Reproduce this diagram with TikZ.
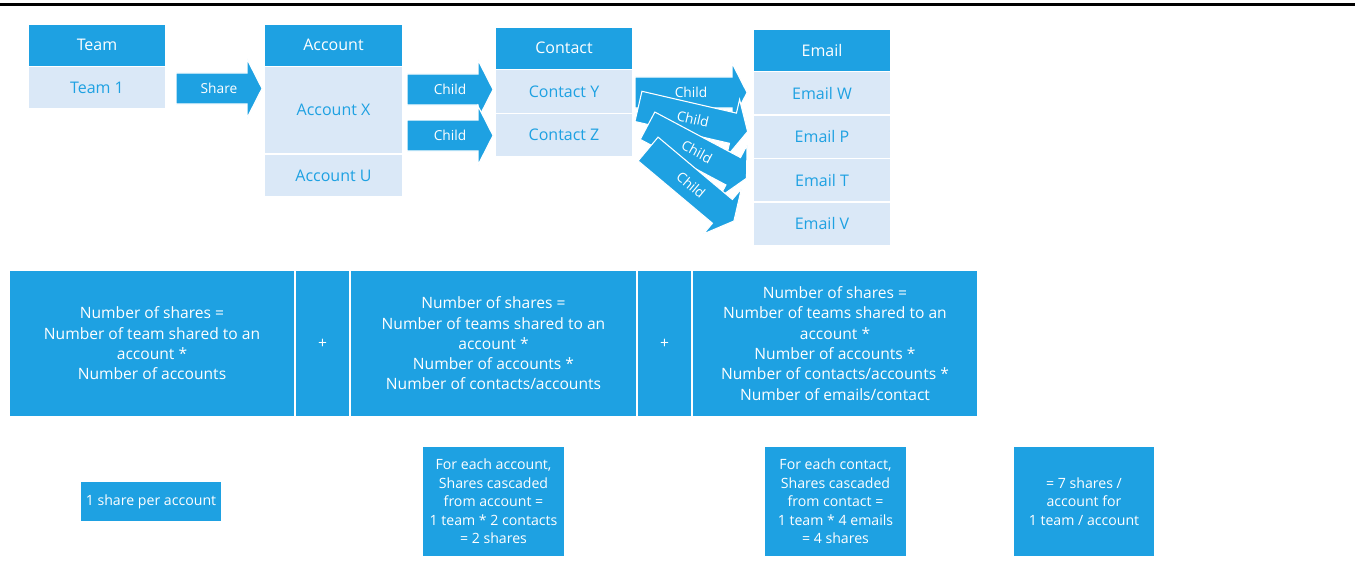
\documentclass[tikz,border=0pt]{standalone}
\usepackage{fontspec}
\setmainfont{Open Sans}
\definecolor{dblue}{RGB}{30,161,226}
\definecolor{lblue}{RGB}{218,232,247}
\begin{document}
\begin{tikzpicture}[x=0.75pt,y=-0.75pt,
  sz/.style 2 args={minimum width=#1*0.75pt, minimum height=#2*0.75pt},
  cell/.style={rectangle, inner sep=0pt, draw=white, line width=1pt},
  hdr/.style={cell, fill=dblue, text=white, font=\fontsize{12}{14}\selectfont},
  item/.style={cell, fill=lblue, text=dblue, font=\fontsize{12}{14}\selectfont},
  formula/.style={cell, fill=dblue, text=white, align=center, font=\fontsize{11.7}{15.2}\selectfont},
  note/.style={cell, fill=dblue, text=white, align=center, font=\fontsize{10.6}{13.9}\selectfont},
  arrowlabel/.style={text=white, inner sep=0pt, font=\fontsize{10.3}{12}\selectfont, transform shape},
  pics/blockarrow/.style 2 args={code={
    \path[fill=dblue, draw=white, line width=0.8pt]
      (-#1/2,-15.5) -- (#1/2-15,-15.5) -- (#1/2-15,-29.5) -- (#1/2,0)
      -- (#1/2-15,29.5) -- (#1/2-15,15.5) -- (-#1/2,15.5) -- cycle;
    \node[arrowlabel] at (0,0) {#2};
  }},
]
\useasboundingbox (0,0) rectangle (1355,560);

% top rule
\draw[line width=2.25pt] (0,4.5) -- (1355,4.5);

% Team table
\node[hdr, sz={138}{42.5}] (teamh) at (97,45.25) {Team};
\node[item, sz={138}{42.5}] (team1) at (97,87.75) {Team 1};

% Account table
\node[hdr, sz={139}{42.5}] (acch) at (333.5,45.25) {Account};
\node[item, sz={139}{87.5}] (accx) at (333.5,110.25) {Account X};
\node[item, sz={139}{43}] (accu) at (333.5,175.5) {Account U};

% Contact table
\node[hdr, sz={138}{42.5}] (conh) at (564,48.25) {Contact};
\node[item, sz={138}{44}] (cony) at (564,91.5) {Contact Y};
\node[item, sz={138}{43.5}] (conz) at (564,135.25) {Contact Z};

% Email table
\node[hdr, sz={138}{42.5}] (emlh) at (822,50.25) {Email};
\node[item, sz={138}{43.5}] (emlw) at (822,93.25) {Email W};
\node[item, sz={138}{43.5}] (emlp) at (822,136.75) {Email P};
\node[item, sz={138}{43.5}] (emlt) at (822,180.25) {Email T};
\node[item, sz={138}{43.5}] (emlv) at (822,223.75) {Email V};

% block arrows
\pic (share) at (219,88.5) {blockarrow={86}{Share}};
\pic (childy) at (450,89.5) {blockarrow={86}{Child}};
\pic (childz) at (450,135.5) {blockarrow={86}{Child}};
\pic (childw) at (691,92.5) {blockarrow={112}{Child}};
\pic[rotate=-13] (childp) at (693,119) {blockarrow={112}{Child}};
\pic[rotate=-28] (childt) at (697,152) {blockarrow={112}{Child}};
\pic[rotate=-40] (childv) at (691,185) {blockarrow={112}{Child}};

% formula row
\node[formula, sz={286}{147}] (f1) at (152,343.5)
  {Number of shares =\\Number of team shared to an\\account *\\Number of accounts};
\node[formula, sz={55}{147}] (p1) at (322.5,343.5) {+};
\node[formula, sz={287}{147}] (f2) at (493.5,343.5)
  {Number of shares =\\Number of teams shared to an\\account *\\Number of accounts *\\Number of contacts/accounts};
\node[formula, sz={55}{147}] (p2) at (664.5,343.5) {+};
\node[formula, sz={286}{147}] (f3) at (835,343.5)
  {Number of shares =\\Number of teams shared to an\\account *\\Number of accounts *\\Number of contacts/accounts *\\Number of emails/contact};

% notes row
\node[note, sz={142}{41}] (n1) at (151,501.5) {1 share per account};
\node[note, sz={143}{111}] (n2) at (493.5,501.5)
  {For each account,\\Shares cascaded\\from account =\\1 team * 2 contacts\\= 2 shares};
\node[note, sz={143}{111}] (n3) at (835.5,501.5)
  {For each contact,\\Shares cascaded\\from contact =\\1 team * 4 emails\\= 4 shares};
\node[note, sz={142}{111}] (n4) at (1084,501.5)
  {= 7 shares /\\account for\\1 team / account};
\end{tikzpicture}
\end{document}
